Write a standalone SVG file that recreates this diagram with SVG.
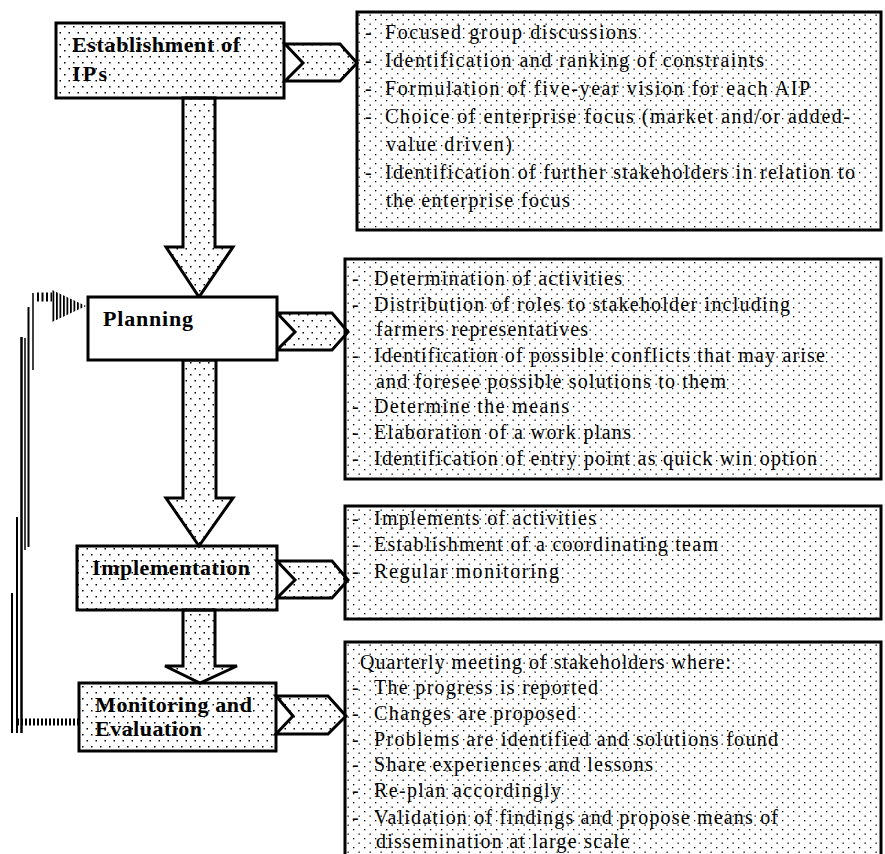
<svg xmlns="http://www.w3.org/2000/svg" width="885" height="854" viewBox="0 0 885 854">
<defs>
<pattern id="dotsL" width="9" height="12" patternUnits="userSpaceOnUse"><rect x="1" y="2" width="1.5" height="1.5" fill="#000"/><rect x="5.5" y="8" width="1.5" height="1.5" fill="#000"/></pattern>
<pattern id="dotsR" width="11" height="9" patternUnits="userSpaceOnUse"><rect x="1" y="1" width="1.3" height="1.3" fill="#000"/><rect x="6.5" y="5.5" width="1.3" height="1.3" fill="#000"/></pattern>
<pattern id="vstripes" width="3.5" height="10" patternUnits="userSpaceOnUse"><rect x="0" y="0" width="1.8" height="10" fill="#000"/></pattern>
</defs>
<style>
.nodeL{fill:url(#dotsL);stroke:#000;stroke-width:3}
.nodeW{fill:#fff;stroke:#000;stroke-width:3}
.boxR{fill:url(#dotsR);stroke:#000;stroke-width:3}
.arrow{fill:url(#dotsL);stroke:#000;stroke-width:3;stroke-linejoin:miter}
.lbl{font-family:"Liberation Serif","Times New Roman",serif;font-weight:bold;font-size:22px;fill:#000}
.txt{font-family:"Liberation Serif","Times New Roman",serif;font-size:20px;fill:#000}
</style>
<rect width="885" height="854" fill="#fff"/>

<g id="connectors">
<polygon class="arrow" points="183,98 215,98 215,247 233,247 199,297 166,247 183,247"/>
<polygon class="arrow" points="183,360 216,360 216,498 233,498 199,546 166,498 183,498"/>
<polygon class="arrow" points="183,610 215,610 215,666 237,666 200,683 165,666 183,666"/>
<polygon class="arrow" points="285,44 340,44 357,63 340,81 285,81 303,63"/>
<polygon class="arrow" points="277,313 332,313 348,332 332,350 277,350 295,332"/>
<polygon class="arrow" points="277,561 332,561 348,580 332,598 277,598 295,580"/>
<polygon class="arrow" points="276,696 328,696 346,716 328,734 276,734 293,716"/>
<g id="feedback" stroke="#000" fill="none">
<line x1="79" y1="722" x2="16" y2="722" stroke-width="7" stroke-dasharray="2 2"/>
<line x1="12" y1="593" x2="12" y2="733" stroke-width="2"/>
<line x1="17" y1="517" x2="17" y2="733" stroke-width="2"/>
<line x1="21.5" y1="337" x2="21.5" y2="733" stroke-width="2.5"/>
<line x1="25" y1="338" x2="25" y2="550" stroke-width="1.5"/>
<line x1="28.5" y1="307" x2="28.5" y2="547" stroke-width="2"/>
<line x1="33" y1="293" x2="33" y2="370" stroke-width="1.5"/>
<line x1="37" y1="297" x2="52" y2="297" stroke-width="9" stroke-dasharray="2 2.5"/>
<polygon points="52,290 86,306 52,322" fill="url(#vstripes)" stroke="none"/>
</g>
</g>

<g id="n-establishment">
<rect class="nodeL" x="56" y="23" width="228" height="75"/>
<text class="lbl" x="72" y="52" textLength="168" lengthAdjust="spacing">Establishment of</text>
<text class="lbl" x="72" y="81" textLength="35" lengthAdjust="spacing">IPs</text>
</g>
<g id="n-planning">
<rect class="nodeW" x="88" y="297" width="189" height="63"/>
<text class="lbl" x="103" y="326" textLength="90" lengthAdjust="spacing">Planning</text>
</g>
<g id="n-implementation">
<rect class="nodeL" x="77" y="546" width="200" height="64"/>
<text class="lbl" x="92" y="575" textLength="158" lengthAdjust="spacing">Implementation</text>
</g>
<g id="n-monitoring">
<rect class="nodeL" x="79" y="683" width="197" height="68"/>
<text class="lbl" x="95" y="712" textLength="157" lengthAdjust="spacing">Monitoring and</text>
<text class="lbl" x="95" y="736" textLength="107" lengthAdjust="spacing">Evaluation</text>
</g>

<g id="b-establishment">
<rect class="boxR" x="357" y="12" width="524" height="218"/>
<text class="txt" y="39"><tspan x="365">-</tspan><tspan x="385" textLength="252" lengthAdjust="spacing">Focused group discussions</tspan></text>
<text class="txt" y="67"><tspan x="365">-</tspan><tspan x="385" textLength="379" lengthAdjust="spacing">Identification and ranking of constraints</tspan></text>
<text class="txt" y="95"><tspan x="365">-</tspan><tspan x="385" textLength="425" lengthAdjust="spacing">Formulation of five-year vision for each AIP</tspan></text>
<text class="txt" y="123"><tspan x="365">-</tspan><tspan x="385" textLength="465" lengthAdjust="spacing">Choice of enterprise focus (market and/or added-</tspan></text>
<text class="txt" x="386" y="151" textLength="126" lengthAdjust="spacing">value driven)</text>
<text class="txt" y="179"><tspan x="365">-</tspan><tspan x="385" textLength="470" lengthAdjust="spacing">Identification of further stakeholders in relation to</tspan></text>
<text class="txt" x="386" y="207" textLength="184" lengthAdjust="spacing">the enterprise focus</text>
</g>
<g id="b-planning">
<rect class="boxR" x="345" y="259" width="536" height="220"/>
<text class="txt" y="285"><tspan x="352">-</tspan><tspan x="374" textLength="248" lengthAdjust="spacing">Determination of activities</tspan></text>
<text class="txt" y="311"><tspan x="352">-</tspan><tspan x="374" textLength="416" lengthAdjust="spacing">Distribution of roles to stakeholder including</tspan></text>
<text class="txt" x="376" y="336" textLength="212" lengthAdjust="spacing">farmers representatives</text>
<text class="txt" y="362"><tspan x="352">-</tspan><tspan x="374" textLength="451" lengthAdjust="spacing">Identification of possible conflicts that may arise</tspan></text>
<text class="txt" x="376" y="388" textLength="350" lengthAdjust="spacing">and foresee possible solutions to them</text>
<text class="txt" y="413"><tspan x="352">-</tspan><tspan x="374" textLength="195" lengthAdjust="spacing">Determine the means</tspan></text>
<text class="txt" y="439"><tspan x="352">-</tspan><tspan x="374" textLength="257" lengthAdjust="spacing">Elaboration of a work plans</tspan></text>
<text class="txt" y="465"><tspan x="352">-</tspan><tspan x="374" textLength="443" lengthAdjust="spacing">Identification of entry point as quick win option</tspan></text>
</g>
<g id="b-implementation">
<rect class="boxR" x="345" y="506" width="536" height="113"/>
<text class="txt" y="525"><tspan x="352">-</tspan><tspan x="374" textLength="222" lengthAdjust="spacing">Implements of activities</tspan></text>
<text class="txt" y="551"><tspan x="352">-</tspan><tspan x="374" textLength="344" lengthAdjust="spacing">Establishment of a coordinating team</tspan></text>
<text class="txt" y="578"><tspan x="352">-</tspan><tspan x="374" textLength="185" lengthAdjust="spacing">Regular monitoring</tspan></text>
</g>
<g id="b-monitoring">
<rect class="boxR" x="345" y="642" width="536" height="220"/>
<text class="txt" x="360" y="669" textLength="371" lengthAdjust="spacing">Quarterly meeting of stakeholders where:</text>
<text class="txt" y="694"><tspan x="352">-</tspan><tspan x="374" textLength="224" lengthAdjust="spacing">The progress is reported</tspan></text>
<text class="txt" y="720"><tspan x="352">-</tspan><tspan x="374" textLength="202" lengthAdjust="spacing">Changes are proposed</tspan></text>
<text class="txt" y="746"><tspan x="352">-</tspan><tspan x="374" textLength="404" lengthAdjust="spacing">Problems are identified and solutions found</tspan></text>
<text class="txt" y="771"><tspan x="352">-</tspan><tspan x="374" textLength="279" lengthAdjust="spacing">Share experiences and lessons</tspan></text>
<text class="txt" y="797"><tspan x="352">-</tspan><tspan x="374" textLength="187" lengthAdjust="spacing">Re-plan accordingly</tspan></text>
<text class="txt" y="824"><tspan x="352">-</tspan><tspan x="374" textLength="404" lengthAdjust="spacing">Validation of findings and propose means of</tspan></text>
<text class="txt" x="376" y="848" textLength="253" lengthAdjust="spacing">dissemination at large scale</text>
</g>
</svg>
